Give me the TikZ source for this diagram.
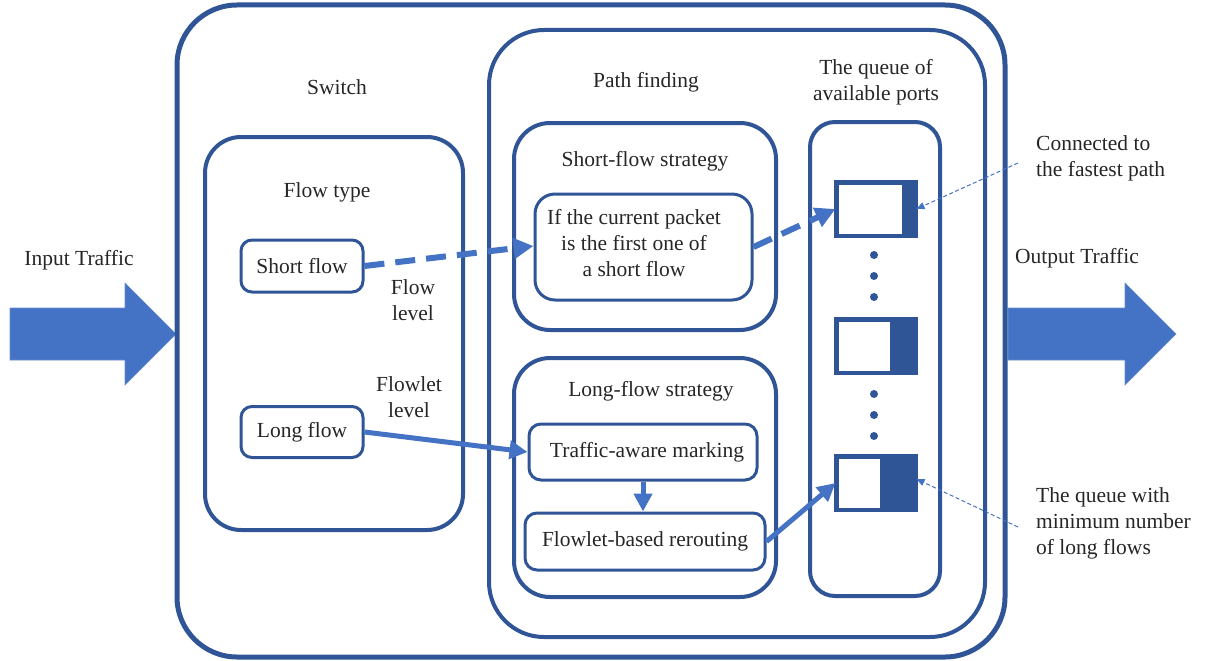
\documentclass[tikz,border=0pt]{standalone}
\usepackage{fontspec}
\setmainfont{Liberation Serif}
\usetikzlibrary{arrows.meta}
\definecolor{frameblue}{HTML}{2F5597}
\definecolor{arrowblue}{HTML}{4472C4}
\definecolor{inkgray}{HTML}{262626}
\begin{document}
\begin{tikzpicture}[x=1pt,y=-1pt,
  every node/.style={font=\fontsize{21.5}{26}\selectfont, text=inkgray},
  frame/.style={draw=frameblue, line width=#1, rounded corners, inner sep=0pt},
  frame/.default=4pt,
  label/.style={align=center, inner sep=0pt},
  note/.style={align=left, inner sep=0pt, anchor=north west},
  queue/.style={draw=frameblue, line width=3pt, fill=white, minimum width=78pt, minimum height=52pt, inner sep=0pt},
  bigarrow/.style={fill=arrowblue, draw=arrowblue!80!white, line width=0.6pt},
  thickdash/.style={draw=arrowblue, line width=6pt, dash pattern=on 20pt off 11pt, -{Triangle[length=20pt,width=20pt]}},
  thickline/.style={draw=arrowblue, line width=5pt, -{Triangle[length=18pt,width=18pt]}},
  thindash/.style={draw=arrowblue, line width=1pt, dash pattern=on 4pt off 2.5pt, -{Triangle[length=8pt,width=7pt]}},
  dot/.style={circle, fill=frameblue, minimum size=8pt, inner sep=0pt}
]
\useasboundingbox (0,0) rectangle (1207,661);

% input and output traffic arrows
\fill[bigarrow] (10,308) -- (125,308) -- (125,283) -- (176,334) -- (125,385) -- (125,360) -- (10,360) -- cycle;
\fill[bigarrow] (1008,308) -- (1125,308) -- (1125,283) -- (1176,334) -- (1125,385) -- (1125,360) -- (1008,360) -- cycle;
\node[label] (intext) at (79,260) {Input Traffic};
\node[label] (outtext) at (1077,258) {Output Traffic};

% switch frame
\node[frame=5pt, rounded corners=60pt, minimum width=828pt, minimum height=652pt] (switch) at (591,331) {};
\node[label] (switchtext) at (337,87) {Switch};

% flow type
\node[frame, rounded corners=36pt, minimum width=258pt, minimum height=393pt] (flowtype) at (334,333.5) {};
\node[label] (flowtypetext) at (327,192) {Flow type};
\node[frame=3pt, rounded corners=11pt, minimum width=122pt, minimum height=52pt] (short) at (302,266) {Short flow};
\node[frame=3pt, rounded corners=11pt, minimum width=122pt, minimum height=51pt] (long) at (302,432) {Long flow};
\node[label] (flowlevel) at (413,300) {Flow\\level};
\node[label] (flowletlevel) at (409,397) {Flowlet\\level};

% path finding
\node[frame, rounded corners=55pt, minimum width=496pt, minimum height=607pt] (path) at (737,333.5) {};
\node[label] (pathtext) at (646,82) {Path finding};

\node[frame, rounded corners=36pt, minimum width=262pt, minimum height=207pt] (sfs) at (645,226.5) {};
\node[label] (sfstext) at (645,161) {Short-flow strategy};
\node[frame=3pt, rounded corners=20pt, minimum width=217pt, minimum height=106pt] (first) at (643.5,247) {};
\node[label] (firsttext) at (634,243) {If the current packet\\is the first one of\\a short flow};

\node[frame, rounded corners=36pt, minimum width=262pt, minimum height=239pt] (lfs) at (645,477.5) {};
\node[label] (lfstext) at (651,391) {Long-flow strategy};
\node[frame=3pt, rounded corners=12pt, minimum width=228pt, minimum height=56pt] (mark) at (643,452) {};
\node[label] (marktext) at (647,452) {Traffic-aware marking};
\node[frame=3pt, rounded corners=12pt, minimum width=240pt, minimum height=57pt] (reroute) at (645,541.5) {Flowlet-based rerouting};

% queue of available ports
\node[frame, rounded corners=25pt, minimum width=130pt, minimum height=474pt] (ports) at (875,359) {};
\node[label] (portstext) at (876,82) {The queue of\\available ports};

\node[queue] (q1) at (876,209) {};
\fill[frameblue] (902,183) rectangle (q1.south east);
\draw[frameblue, line width=3pt] (q1.south west) rectangle (q1.north east);
\node[queue] (q2) at (876,346) {};
\fill[frameblue] (890,320) rectangle (q2.south east);
\draw[frameblue, line width=3pt] (q2.south west) rectangle (q2.north east);
\node[queue] (q3) at (876,483) {};
\fill[frameblue] (880,457) rectangle (q3.south east);
\draw[frameblue, line width=3pt] (q3.south west) rectangle (q3.north east);

\node[dot] (d1) at (874,255) {};
\node[dot] (d2) at (874,276) {};
\node[dot] (d3) at (874,297) {};
\node[dot] (d4) at (874,394) {};
\node[dot] (d5) at (874,415) {};
\node[dot] (d6) at (874,436) {};

% annotations
\node[note] (fastest) at (1036,135) {Connected to\\the fastest path};
\node[note] (minimum) at (1036,487) {The queue with\\minimum number\\of long flows};
\coordinate (fastfoot) at (1018,163);
\coordinate (minfoot) at (1018,527);
\draw[thindash] (fastfoot) -- (q1.east);
\draw[thindash] (minfoot) -- ([yshift=4pt]q3.east);

% connectors
\draw[thickdash] (short.east) -- ([yshift=1pt]first.west);
\draw[thickdash] (first.east) -- (q1.west);
\draw[thickline] (long.east) -- (mark.west);
\draw[thickline] (mark.south) -- (mark.south |- reroute.north);
\draw[thickline] (reroute.east) -- (q3.west);
\end{tikzpicture}
\end{document}
